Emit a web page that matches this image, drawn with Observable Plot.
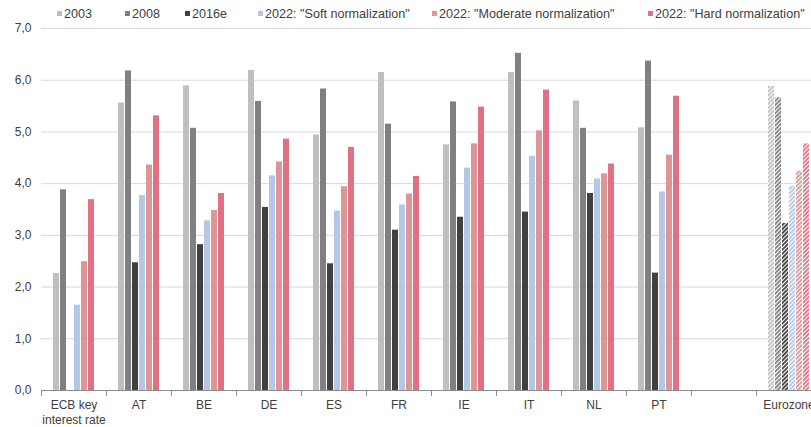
<!DOCTYPE html>
<html>
<head>
<meta charset="utf-8">
<script src="https://cdn.jsdelivr.net/npm/d3@7"></script>
<script src="https://cdn.jsdelivr.net/npm/@observablehq/plot@0.6"></script>
<style>
  html, body { margin: 0; padding: 0; background: #fff; overflow: hidden; }
  body { font-family: "Liberation Sans", Arial, sans-serif; }
  #wrap { position: relative; width: 811px; height: 427px; }
  #legend { position: absolute; left: 0; top: 0; width: 811px; height: 22px; font-size: 12.6px; color: #404040; }
  .item { position: absolute; top: 7px; white-space: nowrap; line-height: 14px; }
  .sw { display: inline-block; width: 5px; height: 5px; margin-right: 2px; vertical-align: 2px; }
</style>
</head>
<body>
<div id="wrap">
  <div id="chart"></div>
  <div id="legend"></div>
</div>
<script>
// ---- data ----
const categories = ["ECB key\ninterest rate", "AT", "BE", "DE", "ES", "FR", "IE", "IT", "NL", "PT", " ", "Eurozone"];
const series = ["2003", "2008", "2016e", "2022: \"Soft normalization\"", "2022: \"Moderate normalization\"", "2022: \"Hard normalization\""];
const colors = ["#bfbfbf", "#808080", "#404040", "#b4c7e7", "#dd9595", "#e07083"];
const hatchedCategory = "Eurozone";

// the " " category is the empty slot between PT and Eurozone (no bars)
const v2003     = [2.26, 5.56, 5.89, 6.19, 4.94, 6.15, 4.75, 6.15, 5.60, 5.08, 0, 5.88];
const v2008     = [3.88, 6.18, 5.07, 5.59, 5.83, 5.15, 5.58, 6.52, 5.07, 6.37, 0, 5.66];
const v2016e    = [0.00, 2.47, 2.82, 3.54, 2.45, 3.10, 3.35, 3.45, 3.81, 2.27, 0, 3.23];
const vSoft     = [1.65, 3.77, 3.28, 4.15, 3.47, 3.59, 4.30, 4.53, 4.09, 3.84, 0, 3.95];
const vModerate = [2.49, 4.36, 3.48, 4.42, 3.94, 3.80, 4.77, 5.02, 4.19, 4.55, 0, 4.24];
const vHard     = [3.69, 5.31, 3.81, 4.86, 4.70, 4.14, 5.48, 5.81, 4.38, 5.69, 0, 4.77];
const yTicks = [0, 1, 2, 3, 4, 5, 6, 7];

const seriesValues = [v2003, v2008, v2016e, vSoft, vModerate, vHard];
const rows = [];
categories.forEach((cat, ci) => {
  series.forEach((s, si) => {
    rows.push({cat, series: s, si, value: seriesValues[si][ci]});
  });
});

const W = 811, H = 427;
const mTop = 28, mBottom = 37;
const plotH = H - mTop - mBottom;
const axisColor = "#8c8c8c";

const chart = Plot.plot({
  width: W,
  height: H,
  marginTop: mTop,
  marginBottom: mBottom,
  marginLeft: 37,
  marginRight: -13,
  style: {fontFamily: "'Liberation Sans', Arial, sans-serif", fontSize: "12px", color: "#404040", background: "transparent"},
  fx: {domain: categories, padding: 0, axis: null, label: null},
  x: {domain: series, axis: null, paddingInner: 0.1, paddingOuter: 1.25},
  y: {domain: [0, 7], axis: null},
  color: {type: "identity"},
  marks: [
    Plot.ruleY(yTicks.filter(d => d > 0), {stroke: "#d9d9d9", strokeWidth: 1}),
    Plot.barY(rows, {
      fx: "cat", x: "series", y: "value",
      fill: d => d.cat === hatchedCategory ? `url(#hatch${d.si})` : colors[d.si]
    }),
    Plot.ruleY([0], {stroke: axisColor, strokeWidth: 1}),
    Plot.frame({anchor: "left", stroke: axisColor, insetTop: plotH, insetBottom: -5}),
    Plot.axisY(yTicks, {anchor: "left", tickSize: 0, tickPadding: 10, label: null,
      tickFormat: d => d.toFixed(1).replace(".", ","), fontSize: 12}),
    Plot.axisFx({anchor: "bottom", tickSize: 0, tickPadding: 8, label: null, lineHeight: 1.25, fontSize: 12})
  ]
});

// hatch patterns for the Eurozone bars
const svg = d3.select(chart.tagName.toLowerCase() === "svg" ? chart : chart.querySelector("svg"));
const defs = svg.insert("defs", ":first-child");
colors.forEach((c, i) => {
  const p = defs.append("pattern")
    .attr("id", `hatch${i}`)
    .attr("patternUnits", "userSpaceOnUse")
    .attr("width", 2.9).attr("height", 6)
    .attr("patternTransform", "rotate(45)");
  p.append("rect").attr("width", 2.9).attr("height", 6).attr("fill", "#fff");
  p.append("rect").attr("width", 1.8).attr("height", 6).attr("fill", c);
});

document.getElementById("chart").appendChild(chart);

// legend
const legendX = [57, 125, 185, 258, 432, 648];
const legend = d3.select("#legend");
series.forEach((s, i) => {
  const it = legend.append("div").attr("class", "item").style("left", legendX[i] + "px");
  it.append("span").attr("class", "sw").style("background", colors[i]);
  it.append("span").text(s);
});
</script>
</body>
</html>
